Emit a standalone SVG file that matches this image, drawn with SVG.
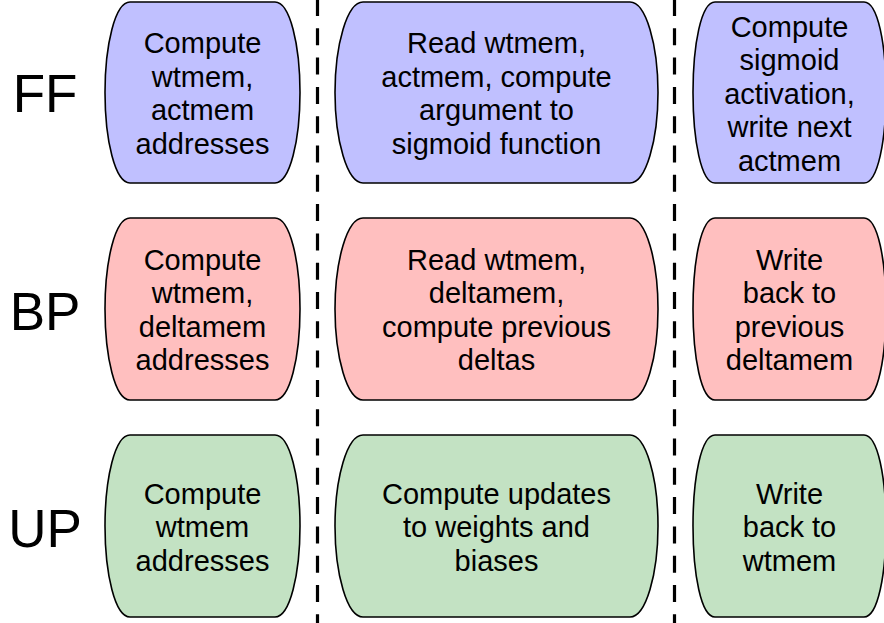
<svg xmlns="http://www.w3.org/2000/svg" width="884" height="623" viewBox="0 0 884 623">
<style>
.box{stroke:#000;stroke-width:1.6}
.ff{fill:#C0C0FF}.bp{fill:#FFBFBF}.up{fill:#C3E2C3}
text{font-family:"Liberation Sans",Arial,Helvetica,sans-serif;fill:#000;text-anchor:middle}
.t{font-size:29px}
.lab{font-size:53px}
.sep{stroke:#000;stroke-width:3.2;stroke-dasharray:17 12.3;fill:none}
</style>
<rect width="884" height="623" fill="#fff"/>
<g id="separators">
<line class="sep" x1="317.5" y1="-1" x2="317.5" y2="623"/>
<line class="sep" x1="674.5" y1="-1" x2="674.5" y2="623"/>
</g>
<g id="labels">
<text class="lab" x="45" y="112">FF</text>
<text class="lab" x="45" y="330">BP</text>
<text class="lab" x="45" y="547">UP</text>
</g>
<g id="ff1">
<path class="box ff" d="M130,2 H275 C290,2 300,45 300,92.5 C300,140 290,183 275,183 H130 C115,183 105,140 105,92.5 C105,45 115,2 130,2 Z"/>
<text class="t" x="202.5"><tspan x="202.5" y="53">Compute</tspan><tspan x="202.5" y="86.5">wtmem,</tspan><tspan x="202.5" y="120">actmem</tspan><tspan x="202.5" y="153.5">addresses</tspan></text>
</g>
<g id="ff2">
<path class="box ff" d="M363,2 H630 C646,2 658,45 658,92.5 C658,140 646,183 630,183 H363 C347,183 335,140 335,92.5 C335,45 347,2 363,2 Z"/>
<text class="t" x="496.5"><tspan x="496.5" y="53">Read wtmem,</tspan><tspan x="496.5" y="86.5">actmem, compute</tspan><tspan x="496.5" y="120">argument to</tspan><tspan x="496.5" y="153.5">sigmoid function</tspan></text>
</g>
<g id="ff3">
<path class="box ff" d="M715,2 H864 C878,2 886,45 886,92.5 C886,140 878,183 864,183 H715 C701,183 693,140 693,92.5 C693,45 701,2 715,2 Z"/>
<text class="t" x="789.5"><tspan x="789.5" y="36.5">Compute</tspan><tspan x="789.5" y="70">sigmoid</tspan><tspan x="789.5" y="103.5">activation,</tspan><tspan x="789.5" y="137">write next</tspan><tspan x="789.5" y="170.5">actmem</tspan></text>
</g>
<g id="bp1">
<path class="box bp" d="M130,218 H275 C290,218 300,261 300,309 C300,357 290,400 275,400 H130 C115,400 105,357 105,309 C105,261 115,218 130,218 Z"/>
<text class="t" x="202.5"><tspan x="202.5" y="269.5">Compute</tspan><tspan x="202.5" y="303">wtmem,</tspan><tspan x="202.5" y="336.5">deltamem</tspan><tspan x="202.5" y="370">addresses</tspan></text>
</g>
<g id="bp2">
<path class="box bp" d="M363,218 H630 C646,218 658,261 658,309 C658,357 646,400 630,400 H363 C347,400 335,357 335,309 C335,261 347,218 363,218 Z"/>
<text class="t" x="496.5"><tspan x="496.5" y="269.5">Read wtmem,</tspan><tspan x="496.5" y="303">deltamem,</tspan><tspan x="496.5" y="336.5">compute previous</tspan><tspan x="496.5" y="370">deltas</tspan></text>
</g>
<g id="bp3">
<path class="box bp" d="M715,218 H864 C878,218 886,261 886,309 C886,357 878,400 864,400 H715 C701,400 693,357 693,309 C693,261 701,218 715,218 Z"/>
<text class="t" x="789.5"><tspan x="789.5" y="269.5">Write</tspan><tspan x="789.5" y="303">back to</tspan><tspan x="789.5" y="336.5">previous</tspan><tspan x="789.5" y="370">deltamem</tspan></text>
</g>
<g id="up1">
<path class="box up" d="M130,435 H275 C290,435 300,478 300,526 C300,574 290,617 275,617 H130 C115,617 105,574 105,526 C105,478 115,435 130,435 Z"/>
<text class="t" x="202.5"><tspan x="202.5" y="503.5">Compute</tspan><tspan x="202.5" y="537">wtmem</tspan><tspan x="202.5" y="570.5">addresses</tspan></text>
</g>
<g id="up2">
<path class="box up" d="M363,435 H630 C646,435 658,478 658,526 C658,574 646,617 630,617 H363 C347,617 335,574 335,526 C335,478 347,435 363,435 Z"/>
<text class="t" x="496.5"><tspan x="496.5" y="503.5">Compute updates</tspan><tspan x="496.5" y="537">to weights and</tspan><tspan x="496.5" y="570.5">biases</tspan></text>
</g>
<g id="up3">
<path class="box up" d="M715,435 H864 C878,435 886,478 886,526 C886,574 878,617 864,617 H715 C701,617 693,574 693,526 C693,478 701,435 715,435 Z"/>
<text class="t" x="789.5"><tspan x="789.5" y="503.5">Write</tspan><tspan x="789.5" y="537">back to</tspan><tspan x="789.5" y="570.5">wtmem</tspan></text>
</g>
</svg>
